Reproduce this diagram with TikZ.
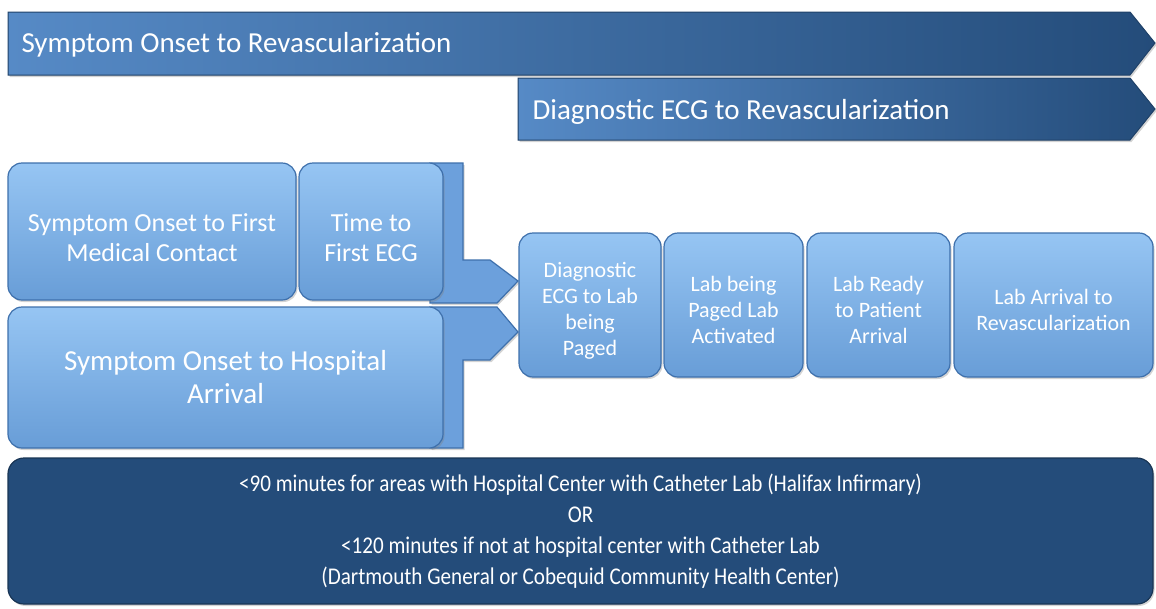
\documentclass[tikz,border=0pt]{standalone}
\usepackage{fontspec}
\setmainfont{Carlito}
\newfontfamily\narrowfont[FakeStretch=0.88]{Carlito}
\usetikzlibrary{shadows}
\definecolor{navy}{RGB}{36,76,122}
\definecolor{midblue}{RGB}{86,138,198}
\definecolor{lightblue}{RGB}{150,197,243}
\definecolor{boxblue}{RGB}{104,157,215}
\definecolor{edgeblue}{RGB}{62,112,172}
\definecolor{frameblue}{RGB}{108,160,220}
\newcommand{\fs}[2]{\fontsize{#1}{#2}\selectfont}

\begin{document}
\begin{tikzpicture}[x=1pt,y=-1pt,
  soft/.style={drop shadow={shadow xshift=1.5pt,shadow yshift=-2pt,opacity=0.35}},
  lbox/.style={soft,draw=edgeblue,line width=1.2pt,rounded corners=14pt,top color=lightblue,bottom color=boxblue,text=white,align=center,inner sep=0pt},
  band/.style={soft,draw=navy!85!black,line width=1pt,left color=midblue,right color=navy},
  chev/.style={soft,draw=edgeblue,line width=1.2pt,fill=frameblue}]
  \useasboundingbox (0,0) rectangle (1156,608);
  % the two long bands on top
  \draw[band](8,12)--(1130,12)--(1155,43)--(1130,75)--(8,75)--cycle;
  \node[right,text=white,font=\fs{29}{33}](onset) at (18,45) {Symptom Onset to Revascularization};
  \draw[band](518,78)--(1130,78)--(1155,109)--(1130,140)--(518,140)--cycle;
  \node[right,text=white,font=\fs{29}{33}](ecg) at (529,112) {Diagnostic ECG to Revascularization};
  % chevrons behind the left blocks
  \draw[chev](430,163)--(463,163)--(463,260)--(490,260)--(518,281)--(497,303)--(430,303)--cycle;
  \draw[chev](430,307)--(497,307)--(518,332)--(490,360)--(463,360)--(463,448)--(430,448)--cycle;
  \node[lbox,minimum width=288pt,minimum height=137pt,font=\fs{26}{30}](fmc) at (152,231.5) {\rule{0pt}{30pt}Symptom Onset to First\\Medical Contact};
  \node[lbox,minimum width=144pt,minimum height=137pt,font=\fs{26}{30}](fecg) at (371,231.5) {\rule{0pt}{30pt}Time to\\First ECG};
  \node[lbox,minimum width=435pt,minimum height=141pt,font=\fs{29}{33}](arr) at (225.5,377.5) {Symptom Onset to Hospital\\Arrival};
  \foreach\cx/\bw/\nm/\txt in {590/142/page/{Diagnostic\\ECG to Lab\\being\\Paged},733.5/139/activ/{Lab being\\Paged Lab\\Activated},878.5/143/ready/{Lab Ready\\to Patient\\Arrival},1053.5/199/revasc/{Lab Arrival to\\Revascularization}}
     \node[lbox,minimum width=\bw pt,minimum height=144pt,font=\fs{22}{26}](\nm) at (\cx,305) {\rule{0pt}{26pt}\txt};
  \node[soft,draw=navy!70!black,line width=1.2pt,fill=navy,rounded corners=16pt,minimum width=1145pt,minimum height=146pt,text=white,align=center,font=\narrowfont\fs{24}{31}](goal) at (580.5,531)
     {<90 minutes for areas with Hospital Center with Catheter Lab (Halifax Infirmary)\\OR\\<120 minutes if not at hospital center with Catheter Lab\\(Dartmouth General or Cobequid Community Health Center)};
\end{tikzpicture}
\end{document}
